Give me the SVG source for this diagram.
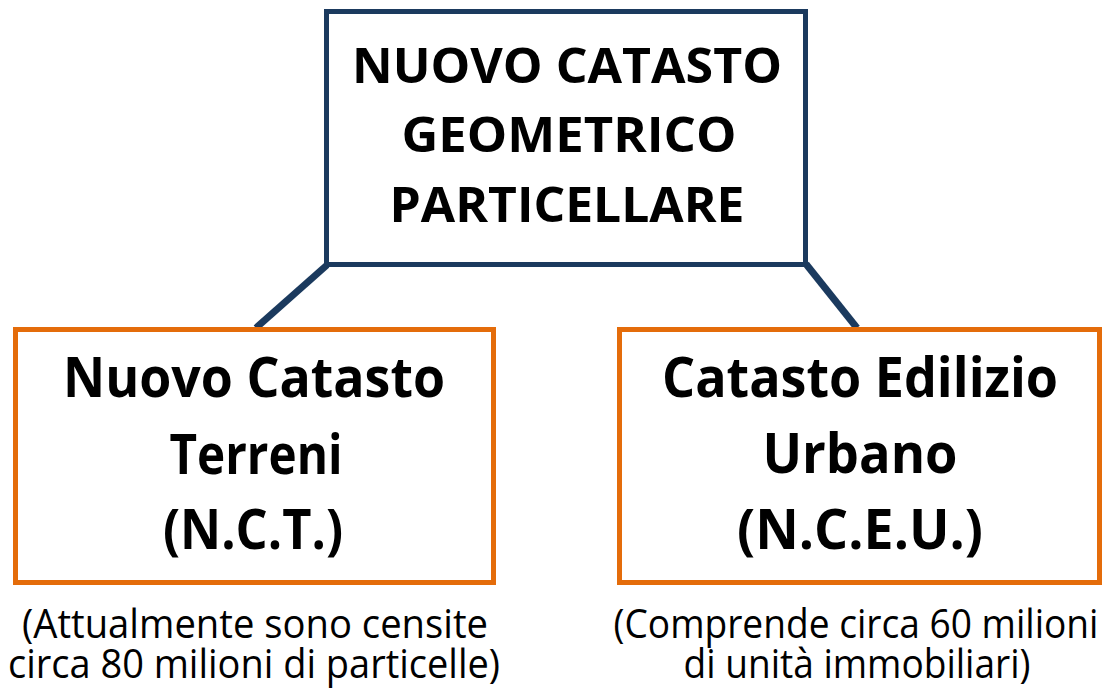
<svg xmlns="http://www.w3.org/2000/svg" width="1111" height="691" viewBox="0 0 1111 691">
<style>
.top{fill:#fff;stroke:#1B3A5E;stroke-width:5}
.sub{fill:#fff;stroke:#E46C0A;stroke-width:5}
.conn{stroke:#1B3A5E;stroke-width:7;fill:none}
text{font-family:"Open Sans","Noto Sans","Liberation Sans",sans-serif;fill:#000;text-anchor:middle}
.h1{font-size:49px;font-weight:bold}
.h2{font-size:56px;font-weight:bold}
.note{font-size:40px}
</style>
<rect width="1111" height="691" fill="#fff"/>
<g id="connectors">
<line class="conn" x1="327" y1="265" x2="256" y2="328"/>
<line class="conn" x1="806" y1="264" x2="857" y2="328"/>
</g>
<g id="root">
<rect class="top" x="326.5" y="11.5" width="479" height="253"/>
<text class="h1" x="567" y="83" textLength="430" lengthAdjust="spacingAndGlyphs">NUOVO CATASTO</text>
<text class="h1" x="569" y="152" textLength="335" lengthAdjust="spacingAndGlyphs">GEOMETRICO</text>
<text class="h1" x="567" y="222" textLength="355" lengthAdjust="spacingAndGlyphs">PARTICELLARE</text>
</g>
<g id="nct">
<rect class="sub" x="15.5" y="329.5" width="478" height="253"/>
<text class="h2" x="254" y="397" textLength="382" lengthAdjust="spacingAndGlyphs">Nuovo Catasto</text>
<text class="h2" x="256" y="474" textLength="173" lengthAdjust="spacingAndGlyphs">Terreni</text>
<text class="h2" x="253" y="549" textLength="180" lengthAdjust="spacingAndGlyphs">(N.C.T.)</text>
</g>
<g id="nceu">
<rect class="sub" x="619.5" y="329.5" width="480" height="253"/>
<text class="h2" x="860" y="397" textLength="396" lengthAdjust="spacingAndGlyphs">Catasto Edilizio</text>
<text class="h2" x="860" y="473" textLength="195" lengthAdjust="spacingAndGlyphs">Urbano</text>
<text class="h2" x="860" y="549" textLength="246" lengthAdjust="spacingAndGlyphs">(N.C.E.U.)</text>
</g>
<g id="note-nct">
<text class="note" x="255" y="638" textLength="466" lengthAdjust="spacingAndGlyphs">(Attualmente sono censite</text>
<text class="note" x="254" y="678" textLength="492" lengthAdjust="spacingAndGlyphs">circa 80 milioni di particelle)</text>
</g>
<g id="note-nceu">
<text class="note" x="856" y="638" textLength="485" lengthAdjust="spacingAndGlyphs">(Comprende circa 60 milioni</text>
<text class="note" x="857" y="678" textLength="347" lengthAdjust="spacingAndGlyphs">di unità immobiliari)</text>
</g>
</svg>
